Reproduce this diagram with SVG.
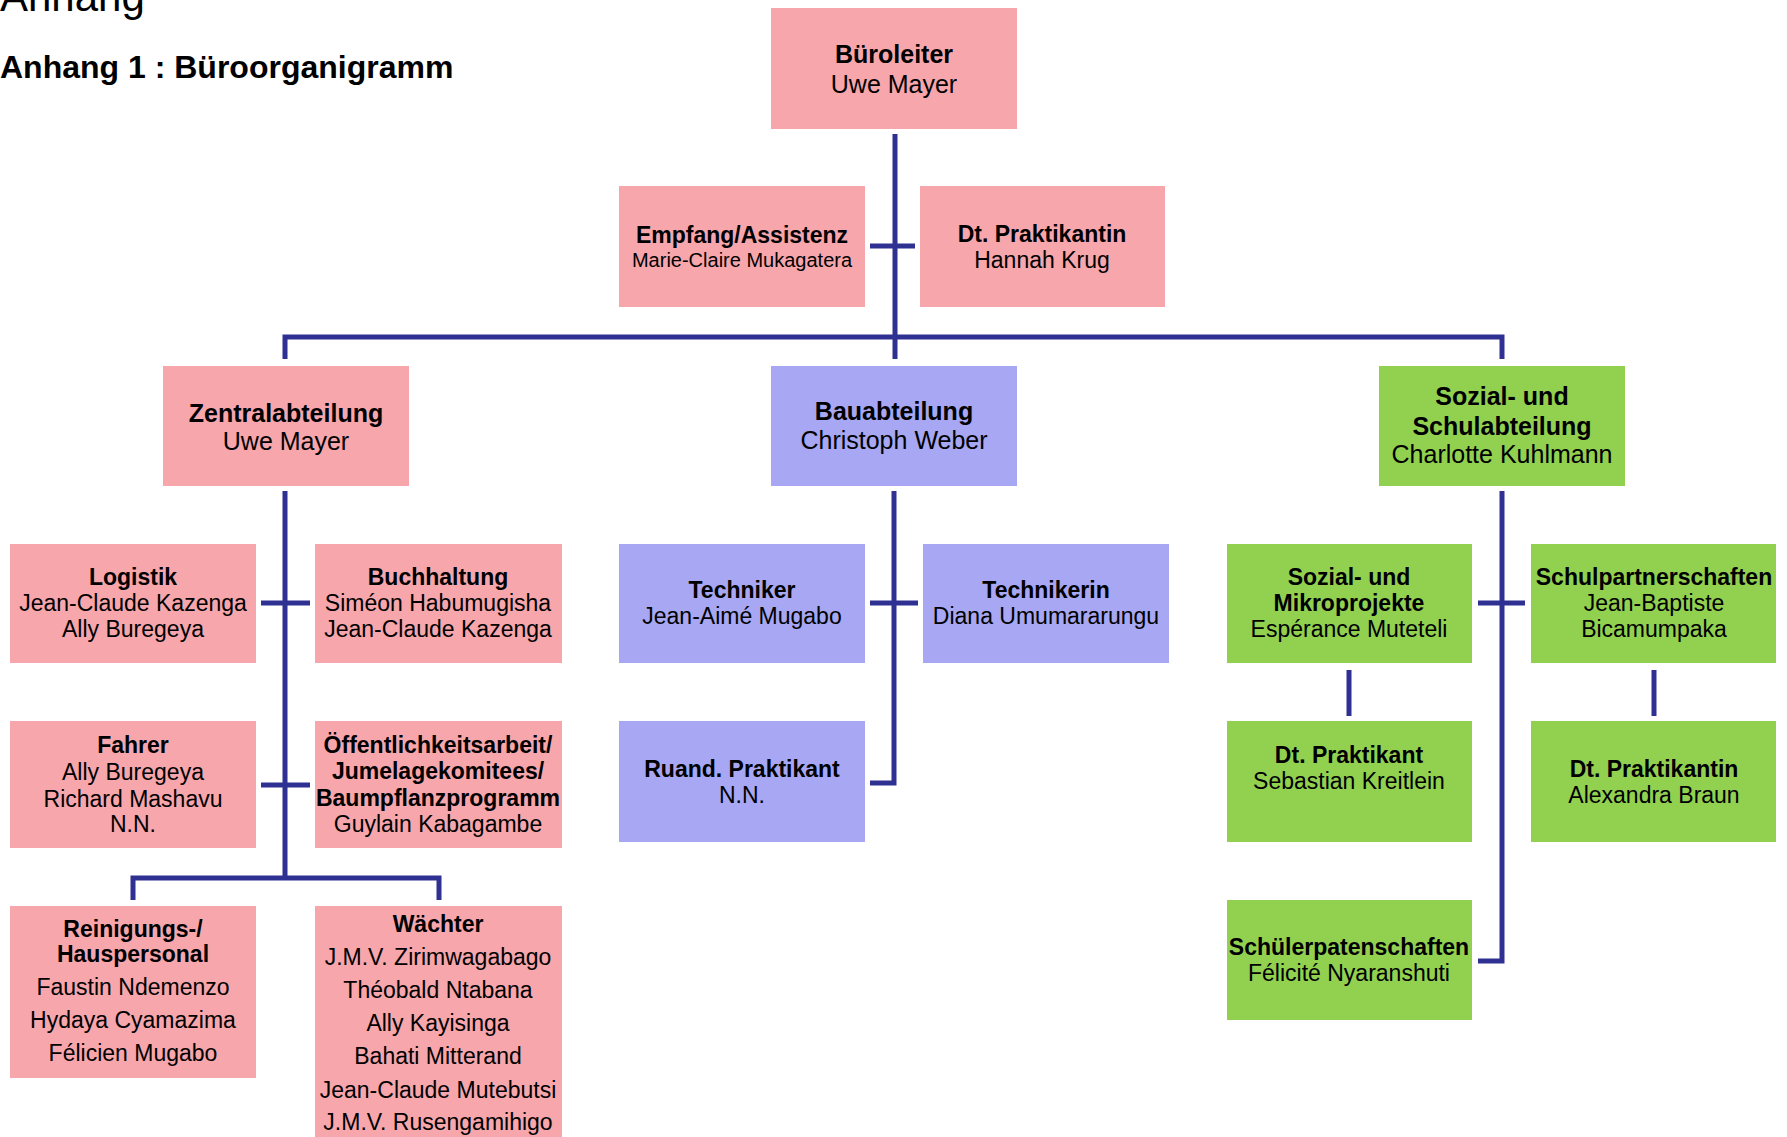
<svg xmlns="http://www.w3.org/2000/svg" width="1787" height="1137" viewBox="0 0 1787 1137">
<style>
  .pink { fill: #F7A6AC; }
  .blue { fill: #A7A7F3; }
  .green { fill: #92D050; }
  text { font-family: "Liberation Sans", Arial, sans-serif; fill: #000; text-anchor: middle; }
  .t { font-weight: bold; font-size: 23px; }
  .n { font-size: 23px; }
  .t2 { font-weight: bold; font-size: 25px; }
  .n2 { font-size: 25px; }
  .ns { font-size: 20px; }
  .conn { fill: none; stroke: #2E3192; stroke-width: 5; }
</style>
<rect width="1787" height="1137" fill="#FFFFFF"/>
<text x="0" y="11" style="font-size:42px;text-anchor:start">Anhang</text>
<text x="0" y="78" style="font-size:32px;font-weight:bold;text-anchor:start">Anhang 1 : Büroorganigramm</text>

<g id="connectors">
  <path class="conn" d="M895,134 V359"/>
  <path class="conn" d="M870,246 H915"/>
  <path class="conn" d="M285,359 V337 H1502 V359"/>
  <path class="conn" d="M285,491 V878"/>
  <path class="conn" d="M261,603 H310"/>
  <path class="conn" d="M261,785 H310"/>
  <path class="conn" d="M133,900 V878 H439 V900"/>
  <path class="conn" d="M894,491 V783 H870"/>
  <path class="conn" d="M870,603 H918"/>
  <path class="conn" d="M1502,491 V961 H1478"/>
  <path class="conn" d="M1478,603 H1525"/>
  <path class="conn" d="M1349,670 V716"/>
  <path class="conn" d="M1654,670 V716"/>
</g>

<g id="bueroleiter">
  <rect class="pink" x="771" y="8" width="246" height="121"/>
  <text class="t2" x="894" y="63">Büroleiter</text>
  <text class="n2" x="894" y="93">Uwe Mayer</text>
</g>
<g id="empfang">
  <rect class="pink" x="619" y="186" width="246" height="121"/>
  <text class="t" x="742" y="243">Empfang/Assistenz</text>
  <text class="ns" x="742" y="267">Marie-Claire Mukagatera</text>
</g>
<g id="praktikantin-top">
  <rect class="pink" x="920" y="186" width="245" height="121"/>
  <text class="t" x="1042" y="242">Dt. Praktikantin</text>
  <text class="n" x="1042" y="268">Hannah Krug</text>
</g>

<g id="zentralabteilung">
  <rect class="pink" x="163" y="366" width="246" height="120"/>
  <text class="t2" x="286" y="422">Zentralabteilung</text>
  <text class="n2" x="286" y="450">Uwe Mayer</text>
</g>
<g id="bauabteilung">
  <rect class="blue" x="771" y="366" width="246" height="120"/>
  <text class="t2" x="894" y="420">Bauabteilung</text>
  <text class="n2" x="894" y="449">Christoph Weber</text>
</g>
<g id="sozialabteilung">
  <rect class="green" x="1379" y="366" width="246" height="120"/>
  <text class="t2" x="1502" y="405">Sozial- und</text>
  <text class="t2" x="1502" y="435">Schulabteilung</text>
  <text class="n2" x="1502" y="463">Charlotte Kuhlmann</text>
</g>

<g id="logistik">
  <rect class="pink" x="10" y="544" width="246" height="119"/>
  <text class="t" x="133" y="585">Logistik</text>
  <text class="n" x="133" y="611">Jean-Claude Kazenga</text>
  <text class="n" x="133" y="637">Ally Buregeya</text>
</g>
<g id="buchhaltung">
  <rect class="pink" x="315" y="544" width="247" height="119"/>
  <text class="t" x="438" y="585">Buchhaltung</text>
  <text class="n" x="438" y="611">Siméon Habumugisha</text>
  <text class="n" x="438" y="637">Jean-Claude Kazenga</text>
</g>
<g id="fahrer">
  <rect class="pink" x="10" y="721" width="246" height="127"/>
  <text class="t" x="133" y="753">Fahrer</text>
  <text class="n" x="133" y="780">Ally Buregeya</text>
  <text class="n" x="133" y="807">Richard Mashavu</text>
  <text class="n" x="133" y="832">N.N.</text>
</g>
<g id="oeffentlichkeitsarbeit">
  <rect class="pink" x="315" y="721" width="247" height="127"/>
  <text class="t" x="438" y="753">Öffentlichkeitsarbeit/</text>
  <text class="t" x="438" y="779">Jumelagekomitees/</text>
  <text class="t" x="438" y="806">Baumpflanzprogramm</text>
  <text class="n" x="438" y="832">Guylain Kabagambe</text>
</g>
<g id="reinigung">
  <rect class="pink" x="10" y="906" width="246" height="172"/>
  <text class="t" x="133" y="937">Reinigungs-/</text>
  <text class="t" x="133" y="962">Hauspersonal</text>
  <text class="n" x="133" y="995">Faustin Ndemenzo</text>
  <text class="n" x="133" y="1028">Hydaya Cyamazima</text>
  <text class="n" x="133" y="1061">Félicien Mugabo</text>
</g>
<g id="waechter">
  <rect class="pink" x="315" y="906" width="247" height="231"/>
  <text class="t" x="438" y="932">Wächter</text>
  <text class="n" x="438" y="965">J.M.V. Zirimwagabago</text>
  <text class="n" x="438" y="998">Théobald Ntabana</text>
  <text class="n" x="438" y="1031">Ally Kayisinga</text>
  <text class="n" x="438" y="1064">Bahati Mitterand</text>
  <text class="n" x="438" y="1098">Jean-Claude Mutebutsi</text>
  <text class="n" x="438" y="1130">J.M.V. Rusengamihigo</text>
</g>

<g id="techniker">
  <rect class="blue" x="619" y="544" width="246" height="119"/>
  <text class="t" x="742" y="598">Techniker</text>
  <text class="n" x="742" y="624">Jean-Aimé Mugabo</text>
</g>
<g id="technikerin">
  <rect class="blue" x="923" y="544" width="246" height="119"/>
  <text class="t" x="1046" y="598">Technikerin</text>
  <text class="n" x="1046" y="624">Diana Umumararungu</text>
</g>
<g id="ruand-praktikant">
  <rect class="blue" x="619" y="721" width="246" height="121"/>
  <text class="t" x="742" y="777">Ruand. Praktikant</text>
  <text class="n" x="742" y="803">N.N.</text>
</g>

<g id="mikroprojekte">
  <rect class="green" x="1227" y="544" width="245" height="119"/>
  <text class="t" x="1349" y="585">Sozial- und</text>
  <text class="t" x="1349" y="611">Mikroprojekte</text>
  <text class="n" x="1349" y="637">Espérance Muteteli</text>
</g>
<g id="schulpartnerschaften">
  <rect class="green" x="1531" y="544" width="245" height="119"/>
  <text class="t" x="1654" y="585">Schulpartnerschaften</text>
  <text class="n" x="1654" y="611">Jean-Baptiste</text>
  <text class="n" x="1654" y="637">Bicamumpaka</text>
</g>
<g id="praktikant-sozial">
  <rect class="green" x="1227" y="721" width="245" height="121"/>
  <text class="t" x="1349" y="763">Dt. Praktikant</text>
  <text class="n" x="1349" y="789">Sebastian Kreitlein</text>
</g>
<g id="praktikantin-schule">
  <rect class="green" x="1531" y="721" width="245" height="121"/>
  <text class="t" x="1654" y="777">Dt. Praktikantin</text>
  <text class="n" x="1654" y="803">Alexandra Braun</text>
</g>
<g id="schuelerpatenschaften">
  <rect class="green" x="1227" y="900" width="245" height="120"/>
  <text class="t" x="1349" y="955">Schülerpatenschaften</text>
  <text class="n" x="1349" y="981">Félicité Nyaranshuti</text>
</g>
</svg>
